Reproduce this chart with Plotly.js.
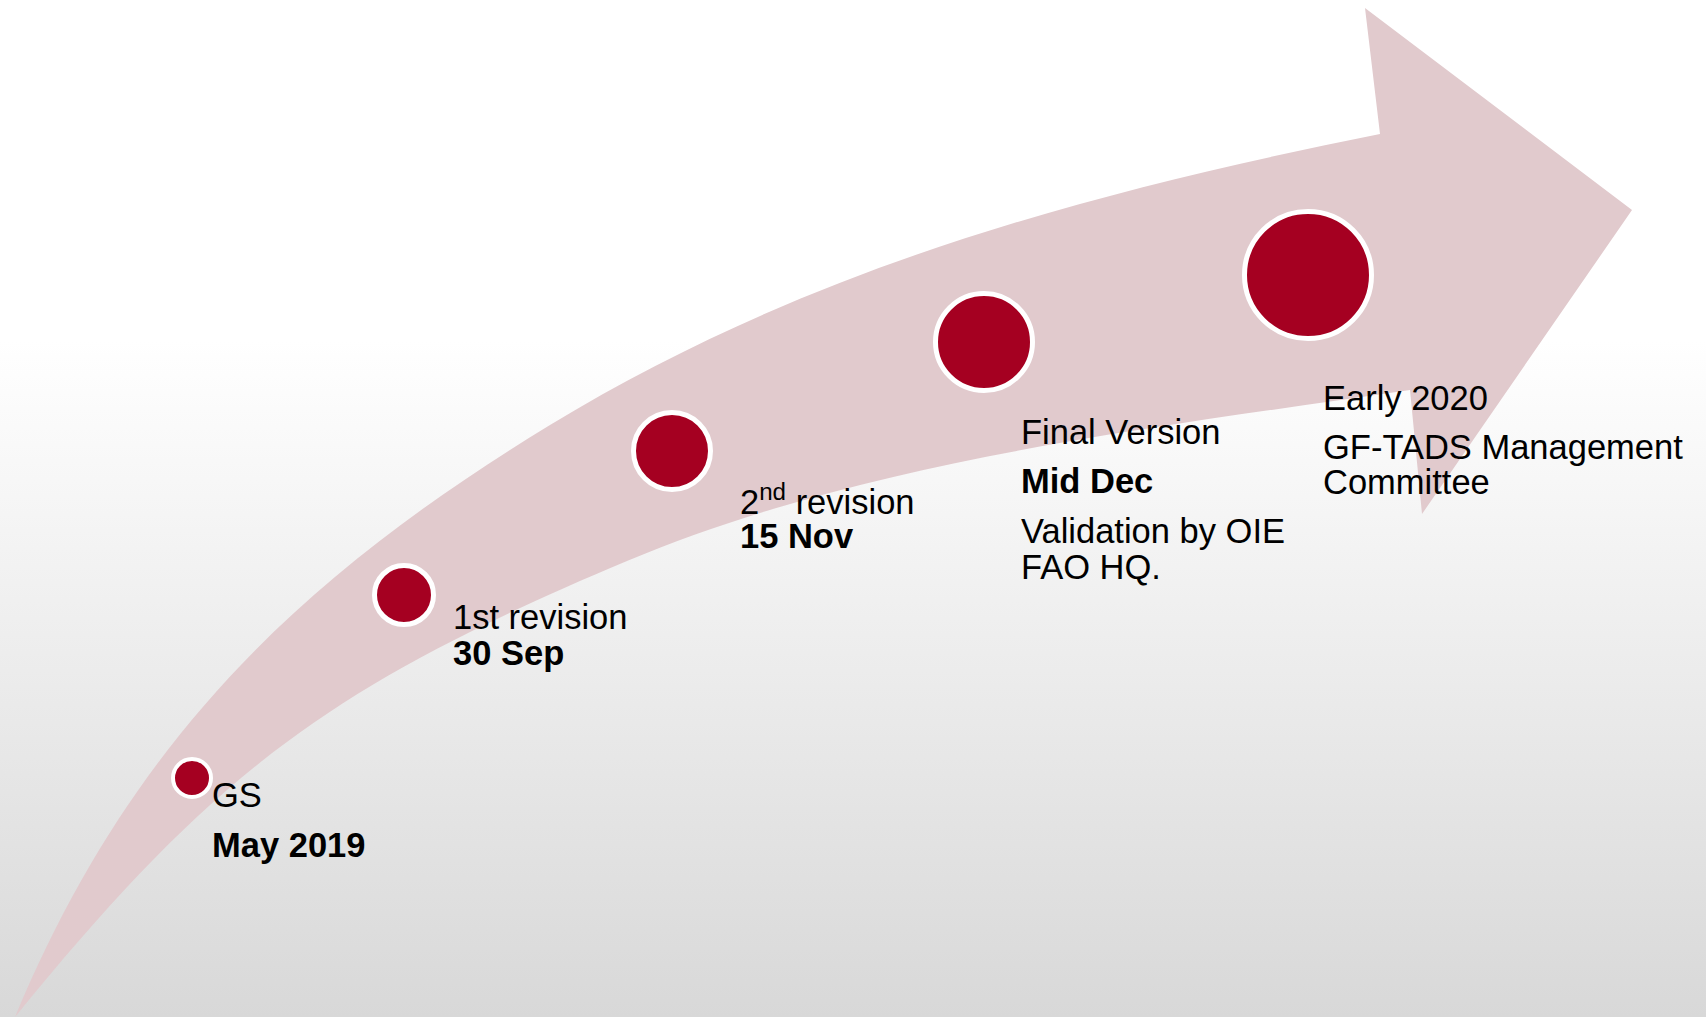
<!DOCTYPE html>
<html>
<head>
<meta charset="utf-8">
<script src="https://cdn.plot.ly/plotly-3.0.1.min.js"></script>
<style>
  html, body { margin: 0; padding: 0; }
  body { width: 1706px; height: 1017px; overflow: hidden;
         background: linear-gradient(to bottom, #ffffff 0px, #ffffff 340px, #d8d8d8 1017px); }
  #chart { width: 1706px; height: 1017px; }
</style>
</head>
<body>
<div id="chart"></div>
<script>
// ---- Data ----
const milestoneTitles = ['GS', '1st revision', '2<sup>nd</sup> revision', 'Final Version', 'Early 2020'];
const milestoneDates  = ['May 2019', '30 Sep', '15 Nov', 'Mid Dec', ''];
const milestoneNotes  = [[], [], [], ['Validation by OIE', 'FAO HQ.'], ['GF-TADS Management', 'Committee']];
const milestoneX = [192, 404, 672, 984, 1308];
const milestoneY = [778, 595, 451, 342, 275];

// arrow outline: upper edge (two cubic segments: anchor, ctrl, ctrl, anchor, ctrl, ctrl, anchor)
const upperEdgeX = [15, 134, 311, 550, 806, 1085, 1380];
const upperEdgeY = [1017, 731, 571, 425, 269, 193, 134];
// arrow head polygon (from shaft top end to shaft bottom end)
const headX = [1365, 1632, 1422, 1410];
const headY = [8, 210, 514, 390];
// lower edge, from head back to the tail (two cubic segments)
const lowerEdgeX = [1410, 1152, 867, 627, 332, 217, 15];
const lowerEdgeY = [390, 428, 460, 561, 685, 769, 1017];

// ---- Styles ----
const PINK = '#e1cacd';
const RED = '#a50021';
const FONT = 'Liberation Sans, Arial, Helvetica, sans-serif';
const FS = 34.5;

function pt(xs, ys, i) { return xs[i] + ',' + ys[i]; }
let path = 'M' + pt(upperEdgeX, upperEdgeY, 0);
for (let i = 1; i < upperEdgeX.length; i += 3) {
  path += ' C' + pt(upperEdgeX, upperEdgeY, i) + ' ' + pt(upperEdgeX, upperEdgeY, i + 1) + ' ' + pt(upperEdgeX, upperEdgeY, i + 2);
}
for (let i = 0; i < headX.length; i++) path += ' L' + pt(headX, headY, i);
for (let i = 1; i < lowerEdgeX.length; i += 3) {
  path += ' C' + pt(lowerEdgeX, lowerEdgeY, i) + ' ' + pt(lowerEdgeX, lowerEdgeY, i + 1) + ' ' + pt(lowerEdgeX, lowerEdgeY, i + 2);
}
path += ' Z';

const traces = [
  {
    x: milestoneX, y: milestoneY,
    mode: 'markers',
    marker: { color: RED, opacity: 1, size: [38, 59, 77, 97, 127],
              line: { color: '#ffffff', width: [4, 5, 5, 5, 5] } },
    hoverinfo: 'skip', showlegend: false
  }
];

// label layout (positions of text blocks)
const labelLeft  = [210, 451, 738, 1019, 1321];
const titleY     = [795, 617, 499, 432, 398];
const dateY      = [845, 653, 536, 481, null];
const notesY     = [[], [], [], [531, 567], [447, 482]];

const annotations = [];
function addText(text, x, y) {
  annotations.push({
    text: text, x: x, y: y, xref: 'x', yref: 'y',
    xanchor: 'left', yanchor: 'middle', showarrow: false, align: 'left',
    font: { family: FONT, size: FS, color: '#000000' }
  });
}
for (let i = 0; i < milestoneTitles.length; i++) {
  addText(milestoneTitles[i], labelLeft[i], titleY[i]);
  if (milestoneDates[i]) addText('<b>' + milestoneDates[i] + '</b>', labelLeft[i], dateY[i]);
  milestoneNotes[i].forEach((n, j) => addText(n, labelLeft[i], notesY[i][j]));
}

const layout = {
  width: 1706, height: 1017,
  margin: { l: 0, r: 0, t: 0, b: 0, pad: 0 },
  paper_bgcolor: 'rgba(0,0,0,0)', plot_bgcolor: 'rgba(0,0,0,0)',
  xaxis: { range: [0, 1706], visible: false, fixedrange: true },
  yaxis: { range: [1017, 0], visible: false, fixedrange: true },
  showlegend: false, hovermode: false,
  shapes: [{
    type: 'path', path: path, xref: 'x', yref: 'y', layer: 'below',
    fillcolor: PINK, line: { width: 0 }
  }],
  annotations: annotations
};

Plotly.newPlot('chart', traces, layout, { displayModeBar: false, staticPlot: true });
</script>
</body>
</html>
